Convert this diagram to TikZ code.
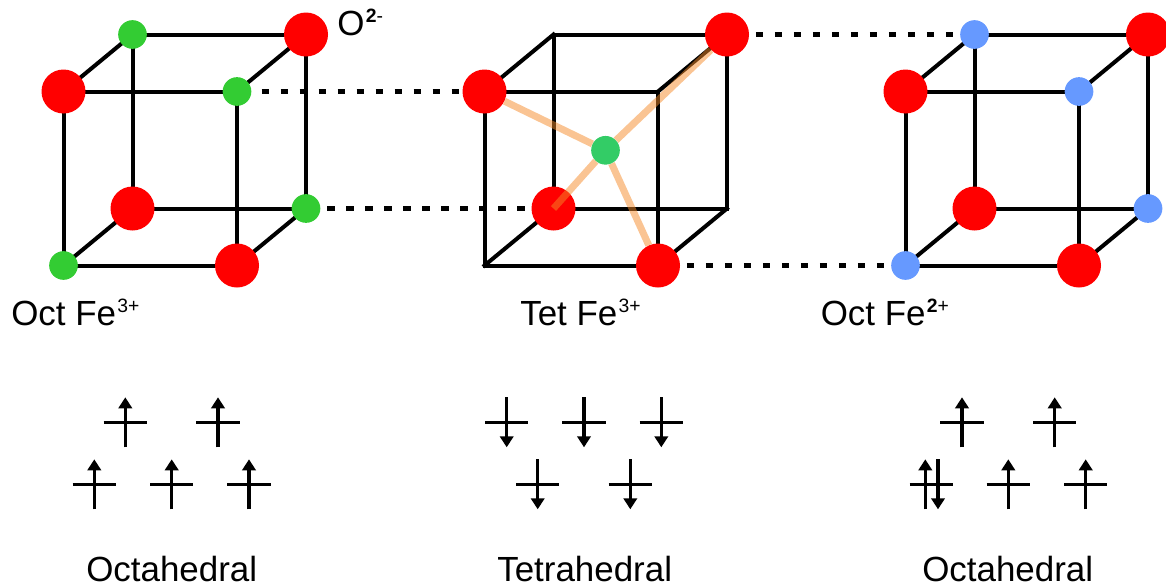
\documentclass[tikz,border=0pt]{standalone}
\usepackage{fontspec}
\setmainfont{Liberation Sans}
\usetikzlibrary{arrows.meta,backgrounds}
\definecolor{FeGreen}{HTML}{33CC33}
\definecolor{FeBlue}{HTML}{6699FF}
\definecolor{FeTetGreen}{HTML}{33CC66}
\definecolor{BondOrange}{HTML}{F58A28}
\newcommand{\ionsup}[1]{\kern1pt\raisebox{9.5pt}{\fontsize{14.5pt}{15pt}\selectfont #1}}
\tikzset{
  oxy/.style={circle,fill=red,inner sep=0pt,minimum size=33pt},
  feoct/.style={circle,fill=FeGreen,inner sep=0pt,minimum size=21.5pt},
  feoctb/.style={circle,fill=FeBlue,inner sep=0pt,minimum size=21.5pt},
  fetet/.style={circle,fill=FeTetGreen,inner sep=0pt,minimum size=21.5pt},
  corner/.style={coordinate},
  edge/.style={line width=3pt,line cap=rect},
  link/.style={line width=3.2pt,dash pattern=on 5.5pt off 8.75pt,shorten <=5pt},
  bond/.style={BondOrange,opacity=0.5,line width=5.25pt},
  level/.style={line width=2.4pt},
  spin/.style={line width=2.4pt,-{Triangle[length=8.25pt,width=10pt]}},
  label/.style={font=\fontsize{26.2pt}{30pt}\selectfont,inner sep=0pt}
}
\begin{document}
\begin{tikzpicture}[x=0.75pt,y=-0.75pt]
  \useasboundingbox (0,0) rectangle (1166,586);
  \def\atomcube#1#2#3{
    \foreach \n/\x/\y in {a/63.5/91.5,c/237/265.5,f/306/34.5,h/132.5/208.5}
      \node[oxy] (#1\n) at (#2+\x,\y) {};
    \foreach \n/\x/\y in {b/237/91.5,d/63.5/265.5,e/132.5/34.5,g/306/208.5}
      \node[#3] (#1\n) at (#2+\x,\y) {};
    \begin{scope}[on background layer]
      \foreach \u/\v in {a/b,b/c,c/d,d/a,e/f,f/g,g/h,h/e,a/e,b/f,c/g,d/h}
        \draw[edge] (#1\u) -- (#1\v);
    \end{scope}
  }
  \def\orbital#1#2{\draw[level] (#1-21.7,#2) -- (#1+21.7,#2);}
  \def\spinup#1#2{\draw[spin] (#1,#2+25) -- (#1,#2-25);}
  \def\spindown#1#2{\draw[spin] (#1,#2-25) -- (#1,#2+25);}

  \atomcube{L}{0}{feoct}
  \atomcube{M}{421}{corner}
  \atomcube{R}{842}{feoctb}

  % dotted links between the cubes
  \begin{scope}[on background layer]
    \draw[link,shorten <=7.5pt] (Lb) -- (Ma);
    \draw[link] (Lg) -- (Mh);
    \draw[link] (Mf) -- (Re);
    \draw[link] (Mc) -- (Rd);
  \end{scope}

  % tetrahedral site
  \node[fetet] (Mt) at (605.5,150.3) {};
  \draw[bond] (Mt) -- (Ma);
  \draw[bond] (Mt) -- (Mf);
  \draw[bond] (Mt) -- (Mc);
  \draw[bond] (Mt) -- (Mh.center);

  \node[label,anchor=base west] (oxylabel) at (337,35) {O\ionsup{\textbf{2}-}};
  \node[label,anchor=base west] (octlabel) at (11,325) {Oct Fe\ionsup{3+}};
  \node[label,anchor=base west] (tetlabel) at (520,325) {Tet Fe\ionsup{3+}};
  \node[label,anchor=base west] (octblabel) at (820.5,325) {Oct Fe\ionsup{\textbf{2}+}};

  % d electrons
  \foreach \x/\y in {125.3/422.3,218/422.3,94.3/484.3,171.7/484.3,249/484.3}{
    \orbital{\x}{\y}
    \spinup{\x}{\y}
  }
  \foreach \x/\y in {506.7/422.3,584/422.3,661.3/422.3,537.7/484.3,630.3/484.3}{
    \orbital{\x}{\y}
    \spindown{\x}{\y}
  }
  \foreach \x/\y in {962/422.3,1054.7/422.3,1008.3/484.3,1085.7/484.3}{
    \orbital{\x}{\y}
    \spinup{\x}{\y}
  }
  \orbital{931.3}{484.3}
  \spinup{925.3}{484.3}
  \spindown{938}{484.3}

  \node[label,anchor=base west] (octname) at (86,581) {Octahedral};
  \node[label,anchor=base west] (tetname) at (497,581) {Tetrahedral};
  \node[label,anchor=base west] (octbname) at (922,581) {Octahedral};
\end{tikzpicture}
\end{document}
